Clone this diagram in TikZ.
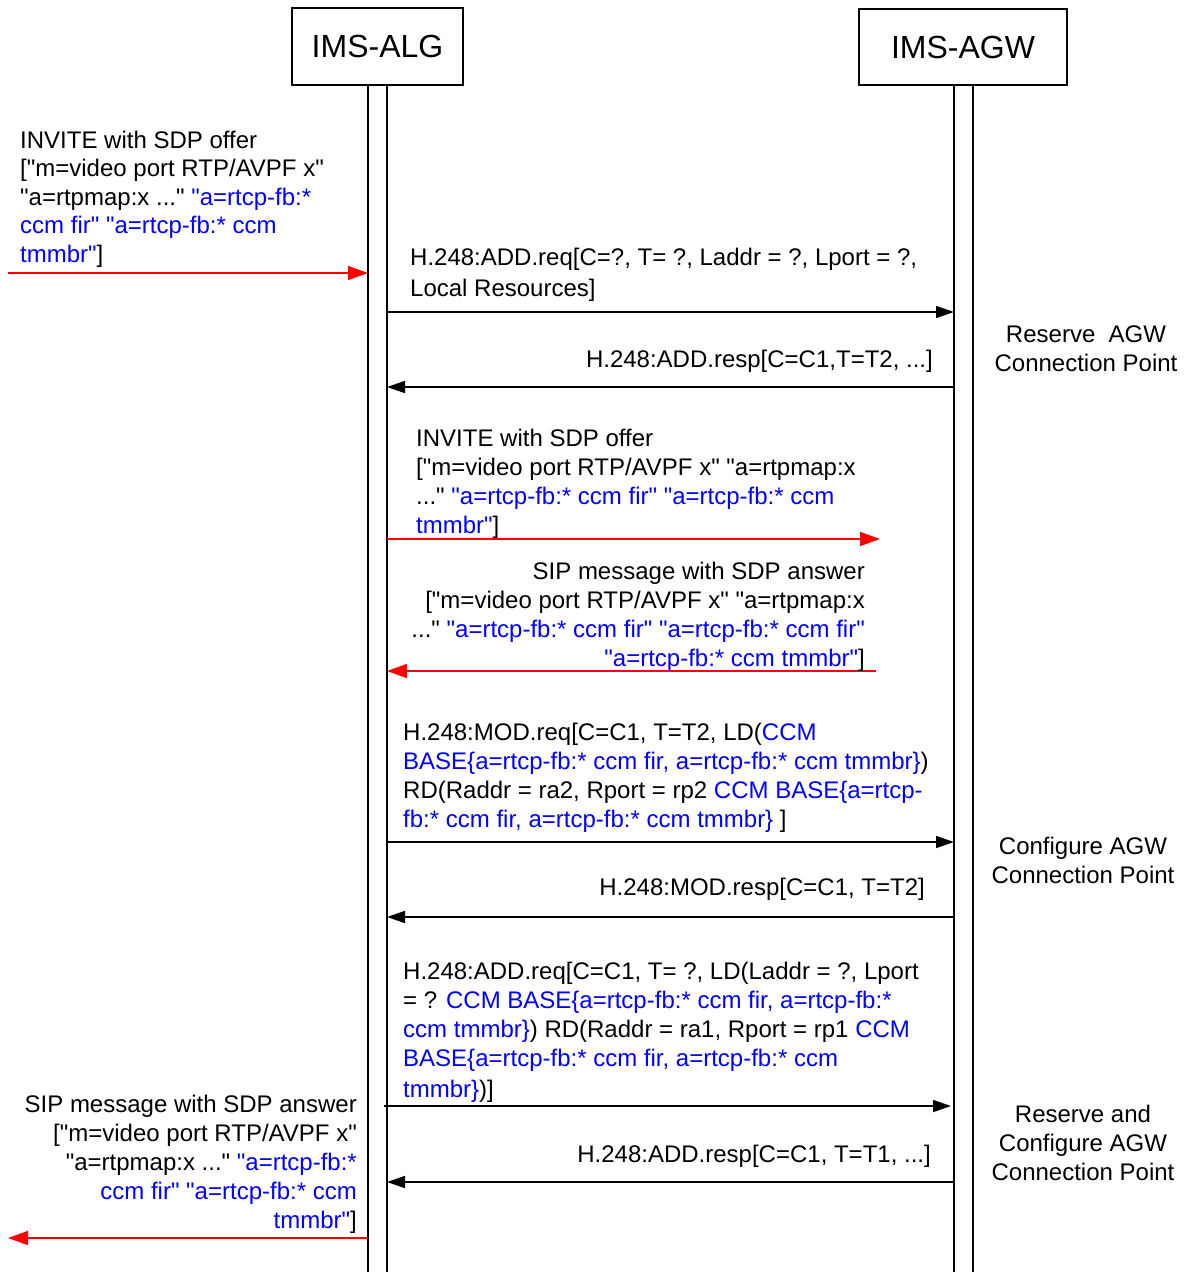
\documentclass[tikz,border=0pt]{standalone}
\usepackage{fontspec}
\setmainfont{Liberation Sans}[Ligatures=TeXOff]
\usetikzlibrary{arrows.meta}
\definecolor{sdpblue}{RGB}{0,0,255}
\definecolor{sigred}{RGB}{255,0,0}
\newcommand\blu[1]{\textcolor{sdpblue}{#1}}
\newcommand\msgL[1]{\begin{tabular}[t]{@{}l@{}}#1\end{tabular}}
\newcommand\msgR[1]{\begin{tabular}[t]{@{}r@{}}#1\end{tabular}}
\newcommand\msgC[1]{\begin{tabular}[t]{@{}c@{}}#1\end{tabular}}
\begin{document}
\begin{tikzpicture}[x=1pt,y=-1pt,
  ent/.style={draw, line width=1.2pt, inner sep=0, font=\fontsize{32}{38}\selectfont},
  life/.style={line width=1.2pt},
  txt/.style={inner sep=0, font=\fontsize{24}{29}\selectfont},
  txtL/.style={txt, anchor=base west},
  txtR/.style={txt, anchor=base east},
  txtC/.style={txt, anchor=base},
  blk/.style={line width=1.6pt, -{Triangle[length=18pt,width=12pt]}},
  sip/.style={line width=1.5pt, draw=sigred, -{Triangle[length=20pt,width=14pt]}, sigred}]
\useasboundingbox (0,0) rectangle (1187,1272);
% entities
\node[ent, minimum width=171pt, minimum height=77pt] (alg) at (377.5,46.5) {IMS-ALG};
\node[ent, minimum width=208pt, minimum height=76pt] (agw) at (963,47) {IMS-AGW};
% lifelines
\draw[life] (alg.south -| 368,0) -- (368,1272);
\draw[life] (alg.south -| 387,0) -- (387,1272);
\draw[life] (agw.south -| 954,0) -- (954,1272);
\draw[life] (agw.south -| 973,0) -- (973,1272);
% coordinates
\coordinate (o1) at (8,273);    \coordinate (i1) at (368,273);
\coordinate (o2) at (387,312);  \coordinate (i2) at (954,312);
\coordinate (o3) at (954,387);  \coordinate (i3) at (387,387);
\coordinate (o4) at (387,539);  \coordinate (i4) at (880,539);
\coordinate (o5) at (876,671);  \coordinate (i5) at (387,671);
\coordinate (o6) at (387,842);  \coordinate (i6) at (954,842);
\coordinate (o7) at (954,917);  \coordinate (i7) at (387,917);
\coordinate (o8) at (384,1106); \coordinate (i8) at (951,1106);
\coordinate (o9) at (954,1182); \coordinate (i9) at (387,1182);
\coordinate (o10) at (368,1238); \coordinate (i10) at (8,1238);
% arrows
\draw[sip] (o1) -- (i1);
\draw[blk] (o2) -- (i2);
\draw[blk] (o3) -- (i3);
\draw[sip] (o4) -- (i4);
\draw[sip] (o5) -- (i5);
\draw[blk] (o6) -- (i6);
\draw[blk] (o7) -- (i7);
\draw[blk] (o8) -- (i8);
\draw[blk] (o9) -- (i9);
\draw[sip] (o10) -- (i10);
% labels
\node[txtL, font=\fontsize{24}{28.5}\selectfont] (t1) at (20,148) {\msgL{INVITE with SDP offer\\
{[}"m=video port RTP/AVPF x"\\
"a=rtpmap:x ..." \blu{"a=rtcp-fb:*}\\
\blu{ccm fir" "a=rtcp-fb:* ccm}\\
\blu{tmmbr"}]}};
\node[txtL, font=\fontsize{24}{31}\selectfont] (t2) at (410,265) {\msgL{H.248:ADD.req[C=?, T= ?, Laddr = ?, Lport = ?,\\
Local Resources]}};
\node[txtR] (t3) at (933,367) {H.248:ADD.resp[C=C1,T=T2, ...]};
\node[txtL] (t4) at (416,446) {\msgL{INVITE with SDP offer\\
{[}"m=video port RTP/AVPF x" "a=rtpmap:x\\
..." \blu{"a=rtcp-fb:* ccm fir" "a=rtcp-fb:* ccm}\\
\blu{tmmbr"}]}};
\node[txtR] (t5) at (865,579) {\msgR{SIP message with SDP answer\\
{[}"m=video port RTP/AVPF x" "a=rtpmap:x\\
..." \blu{"a=rtcp-fb:* ccm fir" "a=rtcp-fb:* ccm fir"}\\
\blu{"a=rtcp-fb:* ccm tmmbr"}]}};
\node[txtL] (t6) at (403,740) {\msgL{H.248:MOD.req[C=C1, T=T2, LD(\blu{CCM}\\
\blu{BASE\{a=rtcp-fb:* ccm fir, a=rtcp-fb:* ccm tmmbr\}})\\
RD(Raddr = ra2, Rport = rp2 \blu{CCM BASE\{a=rtcp-}\\
\blu{fb:* ccm fir, a=rtcp-fb:* ccm tmmbr\}} ]}};
\node[txtR] (t7) at (925,895) {H.248:MOD.resp[C=C1, T=T2]};
\node[txtL] (t8) at (403,979) {\msgL{H.248:ADD.req[C=C1, T= ?, LD(Laddr = ?, Lport\\
= ? \blu{CCM BASE\{a=rtcp-fb:* ccm fir, a=rtcp-fb:*}\\
\blu{ccm tmmbr\}}) RD(Raddr = ra1, Rport = rp1 \blu{CCM}\\
\blu{BASE\{a=rtcp-fb:* ccm fir, a=rtcp-fb:* ccm}\\[2pt]
\blu{tmmbr\}})]}};
\node[txtR] (t9) at (931,1162) {H.248:ADD.resp[C=C1, T=T1, ...]};
\node[txtR] (t10) at (357,1112) {\msgR{SIP message with SDP answer\\
{[}"m=video port RTP/AVPF x"\\
"a=rtpmap:x ..." \blu{"a=rtcp-fb:*}\\
\blu{ccm fir" "a=rtcp-fb:* ccm}\\
\blu{tmmbr"}]}};
% annotations
\node[txtC] (r1) at (1086,342) {\msgC{Reserve \ AGW\\ Connection Point}};
\node[txtC] (r2) at (1083,854) {\msgC{Configure AGW\\ Connection Point}};
\node[txtC] (r3) at (1083,1122) {\msgC{Reserve and\\ Configure AGW\\ Connection Point}};
\end{tikzpicture}
\end{document}
